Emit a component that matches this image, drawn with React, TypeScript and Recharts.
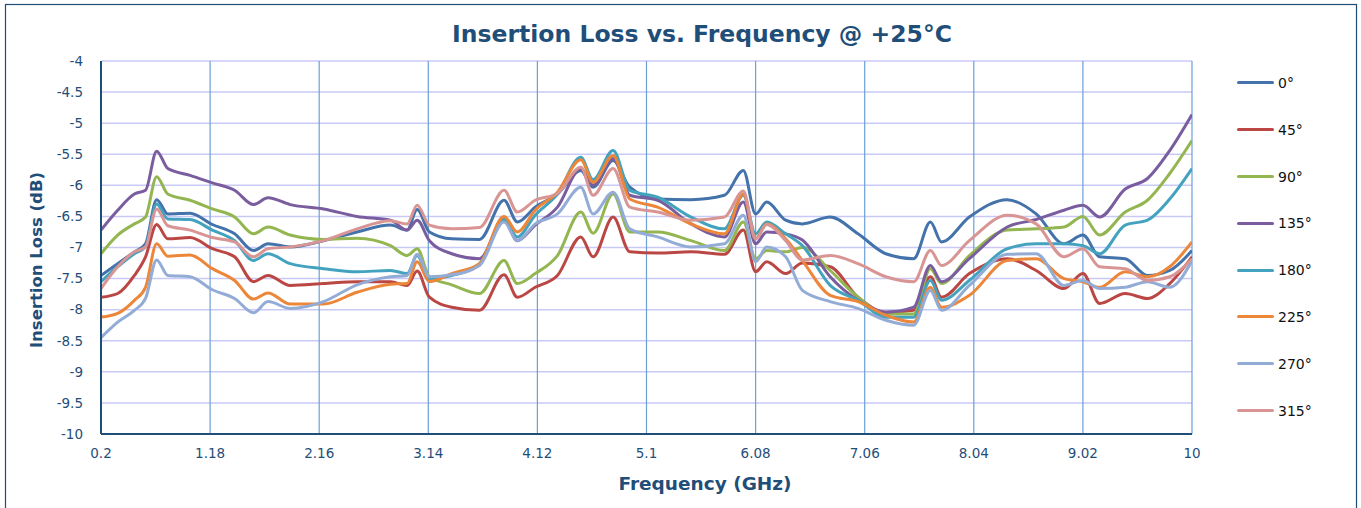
import { LineChart, Line, XAxis, YAxis, CartesianGrid, Legend } from "recharts";

const freqs = [
  0.2, 0.35, 0.5, 0.6, 0.7, 0.8, 1.0, 1.2, 1.4, 1.57,
  1.7, 1.9, 2.2, 2.5, 2.8, 2.95, 3.04, 3.15, 3.35, 3.6,
  3.82, 3.94, 4.1, 4.3, 4.51, 4.62, 4.8, 4.95, 5.2, 5.5,
  5.8, 5.97, 6.08, 6.18, 6.35, 6.5, 6.75, 7.0, 7.25, 7.5,
  7.65, 7.75, 8.0, 8.34, 8.6, 8.85, 9.02, 9.17, 9.4, 9.6,
  9.8, 10,
];

const deg0 = [
  -7.45, -7.26, -7.07, -6.94, -6.23, -6.46, -6.45, -6.63, -6.78, -7.05,
  -6.94, -6.99, -6.89, -6.75, -6.64, -6.72, -6.39, -6.75, -6.86, -6.87,
  -6.24, -6.59, -6.35, -6.14, -5.76, -6.03, -5.6, -6.03, -6.22, -6.23,
  -6.16, -5.76, -6.46, -6.27, -6.56, -6.62, -6.51, -6.78, -7.1, -7.18,
  -6.59, -6.91, -6.51, -6.23, -6.46, -6.94, -6.8, -7.15, -7.18, -7.45,
  -7.37, -7.05,
];
const deg45 = [
  -7.8, -7.74, -7.45, -7.15, -6.63, -6.86, -6.84, -7.02, -7.15, -7.55,
  -7.45, -7.61, -7.58, -7.55, -7.55, -7.61, -7.38, -7.8, -7.96, -8.01,
  -7.44, -7.8, -7.64, -7.45, -6.83, -7.15, -6.51, -7.07, -7.09, -7.07,
  -7.11, -6.72, -7.39, -7.23, -7.42, -7.25, -7.31, -7.8, -8.04, -8.01,
  -7.47, -7.8, -7.42, -7.18, -7.37, -7.66, -7.42, -7.9, -7.74, -7.82,
  -7.58, -7.15,
];
const deg90 = [
  -7.1, -6.8, -6.62, -6.51, -5.86, -6.14, -6.24, -6.38, -6.51, -6.78,
  -6.67, -6.8, -6.87, -6.85, -6.97, -7.13, -7.02, -7.47, -7.6, -7.74,
  -7.21, -7.58, -7.42, -7.13, -6.43, -6.77, -6.14, -6.75, -6.75, -6.89,
  -7.05, -6.59, -7.18, -7.05, -7.07, -7.0, -7.37, -7.8, -8.07, -8.07,
  -7.34, -7.58, -7.13, -6.72, -6.7, -6.67, -6.5, -6.8, -6.43, -6.24,
  -5.81, -5.28,
];
const deg135 = [
  -6.72, -6.4, -6.14, -6.08, -5.45, -5.73, -5.84, -5.96, -6.08, -6.31,
  -6.2, -6.31, -6.38, -6.5, -6.56, -6.72, -6.56, -6.89, -7.1, -7.18,
  -6.56, -6.89, -6.64, -6.35, -5.73, -6.0, -5.57, -6.16, -6.24, -6.62,
  -6.83, -6.27, -6.94, -6.75, -6.78, -6.88, -7.47, -7.85, -8.04, -7.96,
  -7.29, -7.55, -7.18, -6.67, -6.55, -6.4, -6.32, -6.51, -6.06, -5.89,
  -5.44, -4.86,
];
const deg180 = [
  -7.55, -7.31, -7.1, -6.99, -6.3, -6.54, -6.55, -6.72, -6.89, -7.21,
  -7.1, -7.26, -7.34, -7.39, -7.37, -7.42, -7.13, -7.5, -7.45, -7.26,
  -6.54, -6.83, -6.48, -6.14, -5.55, -5.91, -5.44, -6.08, -6.19, -6.51,
  -6.7, -6.16, -6.78, -6.59, -6.78, -6.97, -7.61, -7.85, -8.12, -8.12,
  -7.53, -7.85, -7.53, -7.02, -6.94, -6.94, -6.97, -7.1, -6.64, -6.56,
  -6.22, -5.73,
];
const deg225 = [
  -8.12, -8.06, -7.85, -7.64, -6.94, -7.14, -7.12, -7.34, -7.53, -7.83,
  -7.73, -7.91, -7.91, -7.72, -7.59, -7.58, -7.23, -7.55, -7.42, -7.26,
  -6.5, -6.75, -6.4, -6.11, -5.59, -5.95, -5.52, -6.22, -6.35, -6.62,
  -6.78, -6.14, -6.86, -6.62, -6.86, -7.21, -7.77, -7.87, -8.09, -8.2,
  -7.64, -7.96, -7.77, -7.21, -7.18, -7.5, -7.55, -7.64, -7.39, -7.47,
  -7.31, -6.91,
];
const deg270 = [
  -8.45, -8.2, -8.01, -7.82, -7.2, -7.45, -7.47, -7.68, -7.82, -8.05,
  -7.87, -7.98, -7.87, -7.6, -7.47, -7.45, -7.11, -7.47, -7.44, -7.29,
  -6.59, -6.89, -6.62, -6.46, -6.03, -6.46, -6.11, -6.7, -6.83, -6.99,
  -6.94, -6.48, -7.23, -6.99, -7.15, -7.69, -7.87, -7.98, -8.17, -8.25,
  -7.69, -8.01, -7.61, -7.11, -7.1, -7.61, -7.53, -7.66, -7.64, -7.55,
  -7.64, -7.21,
];
const deg315 = [
  -7.66, -7.31, -7.07, -6.99, -6.38, -6.65, -6.72, -6.84, -6.91, -7.15,
  -7.02, -6.99, -6.89, -6.7, -6.57, -6.62, -6.32, -6.64, -6.7, -6.68,
  -6.08, -6.43, -6.24, -6.13, -5.71, -6.16, -5.73, -6.35, -6.43, -6.56,
  -6.51, -6.09, -6.86, -6.63, -6.89, -7.2, -7.13, -7.26, -7.47, -7.55,
  -7.05, -7.29, -6.89, -6.48, -6.62, -7.15, -7.02, -7.31, -7.34, -7.53,
  -7.47, -7.18,
];

const xTicks = [0.2, 1.18, 2.16, 3.14, 4.12, 5.1, 6.08, 7.06, 8.04, 9.02, 10];
const yTicks = [-10, -9.5, -9, -8.5, -8, -7.5, -7, -6.5, -6, -5.5, -5, -4.5, -4];

const series = [
  { key: "d0", name: "0°", color: "#4472aa", values: deg0 },
  { key: "d45", name: "45°", color: "#bb4744", values: deg45 },
  { key: "d90", name: "90°", color: "#93b651", values: deg90 },
  { key: "d135", name: "135°", color: "#7a5d9e", values: deg135 },
  { key: "d180", name: "180°", color: "#43a3be", values: deg180 },
  { key: "d225", name: "225°", color: "#ec873a", values: deg225 },
  { key: "d270", name: "270°", color: "#93acd6", values: deg270 },
  { key: "d315", name: "315°", color: "#d99593", values: deg315 },
];

const data = freqs.map((f, i) => {
  const row: Record<string, number> = { f };
  series.forEach((s) => {
    row[s.key] = s.values[i];
  });
  return row;
});

const navy = "#1f4e79";
const font = "'DejaVu Sans', sans-serif";

// keep the legend in series order (recharts sorts it by name otherwise)
const LegendBox = ({ payload }: any) => {
  const items = [...(payload || [])].sort(
    (a: any, b: any) =>
      series.findIndex((s) => s.name === a.value) - series.findIndex((s) => s.name === b.value)
  );
  return (
    <div style={{ fontFamily: font, fontSize: 14, color: "#111" }}>
      {items.map((p: any) => (
        <div key={p.value} style={{ height: 46.8, display: "flex", alignItems: "center" }}>
          <span style={{ display: "inline-block", width: 37, height: 3, background: p.color, borderRadius: 1.5, marginRight: 4 }} />
          <span>{p.value}</span>
        </div>
      ))}
    </div>
  );
};

export default function App() {
  return (
    <div style={{ position: "absolute", left: 0, top: 0, background: "#fff" }}>
      <LineChart width={1361} height={508} data={data} margin={{ top: 61, right: 169, bottom: 44, left: 41 }}>
        <rect x={5.5} y={4.5} width={1351} height={520} fill="none" stroke={navy} strokeWidth={1.2} />
        <text x={702} y={42} textAnchor="middle" fontFamily={font} fontWeight="bold" fontSize={23.5} fill={navy}>
          Insertion Loss vs. Frequency @ +25°C
        </text>
        <text x={705} y={490} textAnchor="middle" fontFamily={font} fontWeight="bold" fontSize={18.5} fill={navy}>
          Frequency (GHz)
        </text>
        <text x={0} y={0} transform="translate(42,260) rotate(-90)" textAnchor="middle" fontFamily={font} fontWeight="bold" fontSize={16.5} fill={navy}>
          Insertion Loss (dB)
        </text>
        <CartesianGrid vertical={false} stroke="#c9c9f7" strokeWidth={1.5} />
        <CartesianGrid horizontal={false} stroke="#6d9fd8" strokeWidth={1.2} />
        <XAxis
          dataKey="f"
          type="number"
          domain={[0.2, 10]}
          ticks={xTicks}
          tickFormatter={(v: number) => String(v)}
          height={30}
          tickSize={0}
          tickMargin={14}
          axisLine={{ stroke: navy, strokeWidth: 2 }}
          tick={{ fill: navy, fontFamily: font, fontSize: 13.5 }}
          allowDataOverflow
        />
        <XAxis xAxisId="top" orientation="top" dataKey="f" type="number" domain={[0.2, 10]} height={0} tick={false} tickLine={false} axisLine={{ stroke: navy, strokeWidth: 1.5 }} />
        <YAxis
          domain={[-10, -4]}
          ticks={yTicks}
          width={60}
          tickSize={0}
          tickMargin={18}
          axisLine={{ stroke: navy, strokeWidth: 2 }}
          tick={{ fill: navy, fontFamily: font, fontSize: 13.5 }}
          allowDataOverflow
        />
        <YAxis yAxisId="right" orientation="right" domain={[-10, -4]} width={0} tick={false} tickLine={false} axisLine={{ stroke: navy, strokeWidth: 2 }} />
        <Legend
          layout="vertical"
          align="center"
          verticalAlign="middle"
          wrapperStyle={{ left: 1237, top: 59.6, width: 110 }}
          content={<LegendBox />}
        />
        {series.map((s) => (
          <Line
            key={s.key}
            type="monotone"
            dataKey={s.key}
            name={s.name}
            stroke={s.color}
            strokeWidth={3}
            dot={false}
            activeDot={false}
            isAnimationActive={false}
          />
        ))}
      </LineChart>
    </div>
  );
}
